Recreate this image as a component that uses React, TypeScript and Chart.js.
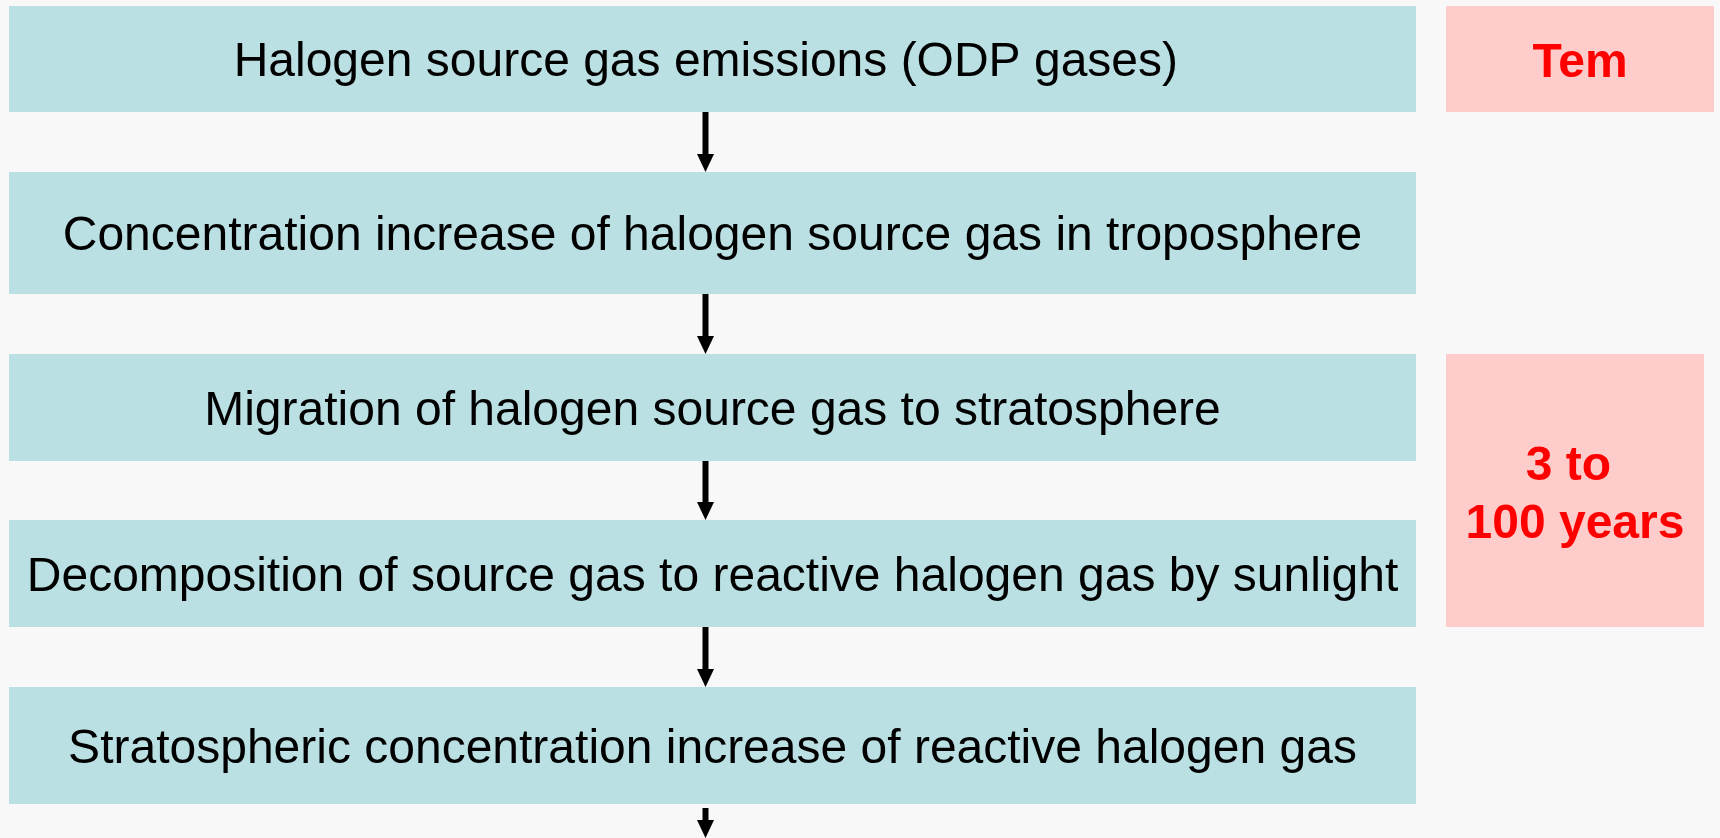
import { useEffect, useRef } from "react";
import { Chart, registerables } from "chart.js";

Chart.register(...registerables);

// ---- content ----
const steps: string[] = [
  "Halogen source gas emissions (ODP gases) ",
  "Concentration increase of halogen source gas in troposphere",
  "Migration of halogen source gas to stratosphere",
  "Decomposition of source gas to reactive halogen gas by sunlight",
  "Stratospheric concentration increase of reactive halogen gas",
];
const durationNotes: string[][] = [["Tem"], ["3 to ", "100 years"]];

// ---- layout (in axis units, 1 unit = 1 px of the 1720x838 frame) ----
const stepTop: number[] = [6, 172, 354, 520, 687];
const stepBottom: number[] = [112, 294, 461, 627, 804];
const stepLeft = 9;
const stepRight = 1416;
const noteLeft: number[] = [1446, 1446];
const noteRight: number[] = [1714, 1704];
const noteTop: number[] = [6, 354];
const noteBottom: number[] = [112, 627];
const arrowX = 705.5;
const frameW = 1720;
const frameH = 838;

const BG = "#f8f8f8";
const BLUE = "#bbe0e3";
const PINK = "#ffcccc";
const RED = "#ff0000";
const FONT = '"Liberation Sans", Arial, Helvetica, sans-serif';

const flowPlugin = {
  id: "flow",
  beforeDraw(chart: any) {
    const ctx = chart.ctx;
    const xs = chart.scales.x;
    const ys = chart.scales.y;
    const X = (v: number) => xs.getPixelForValue(v);
    const Y = (v: number) => ys.getPixelForValue(v);
    ctx.save();
    ctx.fillStyle = BG;
    ctx.fillRect(0, 0, chart.width, chart.height);

    // step boxes
    steps.forEach((label, i) => {
      const x0 = X(stepLeft), x1 = X(stepRight);
      const y0 = Y(stepTop[i]), y1 = Y(stepBottom[i]);
      ctx.fillStyle = BLUE;
      ctx.fillRect(x0, y0, x1 - x0, y1 - y0);
      ctx.fillStyle = "#000";
      ctx.font = `48px ${FONT}`;
      ctx.textAlign = "center";
      ctx.textBaseline = "alphabetic";
      const cy = (y0 + y1) / 2;
      ctx.fillText(label, (x0 + x1) / 2, cy + 17);
    });

    // arrows
    const drawArrow = (ya: number, yb: number) => {
      const cx = X(arrowX);
      const a = Y(ya), b = Y(yb);
      ctx.fillStyle = "#000";
      ctx.fillRect(cx - 3, a, 6, b - a - 18);
      ctx.beginPath();
      ctx.moveTo(cx - 8.5, b - 18);
      ctx.lineTo(cx + 8.5, b - 18);
      ctx.lineTo(cx, b);
      ctx.closePath();
      ctx.fill();
    };
    for (let i = 0; i < steps.length - 1; i++) {
      drawArrow(stepBottom[i], stepTop[i + 1]);
    }
    drawArrow(stepBottom[steps.length - 1] + 4, frameH);

    // duration notes
    durationNotes.forEach((lines, i) => {
      const x0 = X(noteLeft[i]), x1 = X(noteRight[i]);
      const y0 = Y(noteTop[i]), y1 = Y(noteBottom[i]);
      ctx.fillStyle = PINK;
      ctx.fillRect(x0, y0, x1 - x0, y1 - y0);
      ctx.fillStyle = RED;
      ctx.font = `bold 48px ${FONT}`;
      ctx.textAlign = "center";
      ctx.textBaseline = "alphabetic";
      const cy = (y0 + y1) / 2;
      const lh = 58;
      lines.forEach((t, k) => {
        const off = (k - (lines.length - 1) / 2) * lh;
        ctx.fillText(t, (x0 + x1) / 2, cy + off + 18);
      });
    });
    ctx.restore();
  },
};

export default function App() {
  const ref = useRef<HTMLCanvasElement | null>(null);
  useEffect(() => {
    document.body.style.margin = "0";
    document.body.style.background = BG;
    const canvas = ref.current;
    if (!canvas) return;
    const chart = new Chart(canvas, {
      type: "scatter",
      data: { datasets: [{ data: [], pointRadius: 0 }] },
      options: {
        animation: false,
        responsive: false,
        devicePixelRatio: 1,
        layout: { padding: 0 },
        plugins: { legend: { display: false }, tooltip: { enabled: false } },
        scales: {
          x: { type: "linear", min: 0, max: frameW, display: false },
          y: { type: "linear", min: 0, max: frameH, reverse: true, display: false },
        },
      },
      plugins: [flowPlugin],
    });
    return () => chart.destroy();
  }, []);
  return (
    <canvas
      ref={ref}
      width={frameW}
      height={frameH}
      style={{ display: "block", width: frameW, height: frameH }}
    />
  );
}
